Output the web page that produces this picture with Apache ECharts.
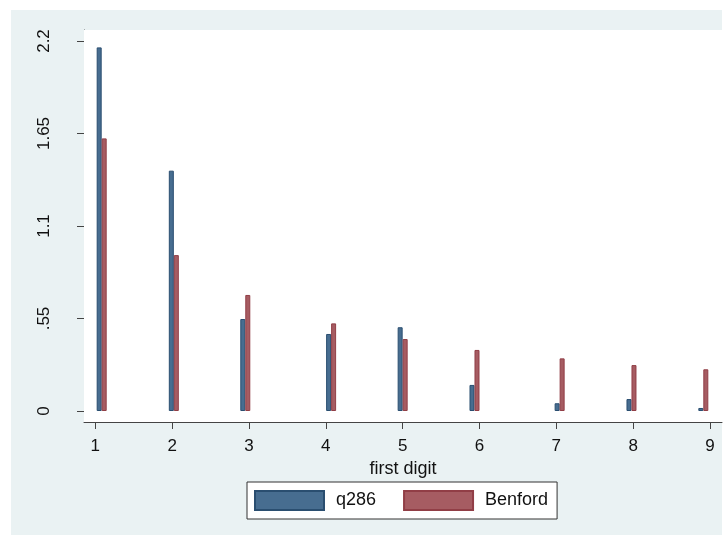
<!DOCTYPE html>
<html>
<head>
<meta charset="utf-8">
<script src="https://cdn.jsdelivr.net/npm/echarts@6/dist/echarts.min.js"></script>
<style>html,body{margin:0;padding:0;background:#fff;}#c{width:727px;height:535px;}</style>
</head>
<body>
<div id="c"></div>
<script>
// ---- data ----
const digits = [1, 2, 3, 4, 5, 6, 7, 8, 9];
const barPositions = [1.083, 2.022, 2.952, 4.069, 5.0, 5.935, 7.043, 7.978, 8.913];
const q286 = [2.162, 1.429, 0.547, 0.458, 0.498, 0.155, 0.046, 0.071, 0.018];
const benford = [1.621, 0.927, 0.690, 0.521, 0.428, 0.363, 0.313, 0.273, 0.248];
const yTicks = [0, 0.55, 1.1, 1.65, 2.2];
const seriesNames = ['q286', 'Benford'];
const xTitle = 'first digit';

const font = '"Liberation Sans", Arial, sans-serif';
const chart = echarts.init(document.getElementById('c'), null, {renderer: 'canvas'});
const fmtY = v => { if (v === 0) return '0'; return String(v).replace(/^0\./, '.'); };

chart.setOption({
  backgroundColor: '#ffffff',
  animation: false,
  graphic: [{
    type: 'rect', z: -100, silent: true,
    shape: {x: 11, y: 10, width: 711, height: 525},
    style: {fill: '#eaf2f3'}
  }],
  grid: {
    left: 84, top: 30, right: 5, bottom: 113,
    show: true, backgroundColor: '#ffffff', borderWidth: 0, z: 1
  },
  legend: {
    left: 247, top: 482,
    padding: [8, 9, 8, 7],
    itemGap: 27,
    itemWidth: 69, itemHeight: 19,
    backgroundColor: '#ffffff',
    borderColor: '#333333', borderWidth: 1,
    icon: 'rect',
    textStyle: {fontFamily: font, fontSize: 18, color: '#111', padding: [0, 0, 0, 7]},
    data: seriesNames
  },
  xAxis: {
    type: 'value',
    min: 0.853, max: 9.156,
    name: xTitle,
    nameLocation: 'middle',
    nameGap: 24,
    nameTextStyle: {fontFamily: font, fontSize: 18, color: '#111'},
    axisLine: {show: true, onZero: false, lineStyle: {color: '#444', width: 1}},
    axisTick: {show: true, length: 7, customValues: digits, lineStyle: {color: '#444'}},
    axisLabel: {customValues: digits, margin: 16, fontFamily: font, fontSize: 17, color: '#111'},
    splitLine: {show: false}
  },
  yAxis: {
    type: 'value',
    min: -0.0654, max: 2.2654,
    axisLine: {show: true, onZero: false, lineStyle: {color: '#444', width: 1}},
    axisTick: {show: true, length: 7, customValues: yTicks, lineStyle: {color: '#444'}},
    axisLabel: {customValues: yTicks, rotate: 90, margin: 31, fontFamily: font, fontSize: 17, color: '#111', formatter: fmtY},
    splitLine: {show: false}
  },
  series: [
    {
      name: seriesNames[0], type: 'bar',
      barWidth: 5, barGap: 0,
      itemStyle: {color: '#476d90', borderColor: '#2a4e70', borderWidth: 1},
      data: barPositions.map((x, i) => [x, q286[i]]),
      markLine: {
        silent: true, symbol: 'none', z: 0,
        label: {show: false},
        lineStyle: {color: '#e6eff1', width: 1.5, type: 'solid'},
        data: yTicks.map(v => ({yAxis: v}))
      }
    },
    {
      name: seriesNames[1], type: 'bar',
      barWidth: 5, barGap: 0,
      itemStyle: {color: '#a65c62', borderColor: '#913e46', borderWidth: 1},
      data: barPositions.map((x, i) => [x, benford[i]])
    }
  ]
});
</script>
</body>
</html>
